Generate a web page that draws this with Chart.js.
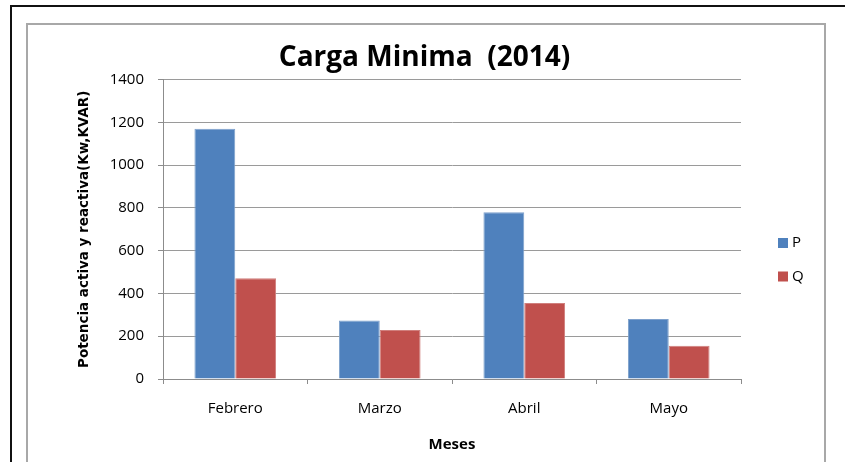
<!DOCTYPE html>
<html><head><meta charset="utf-8">
<script src="https://cdn.jsdelivr.net/npm/chart.js@4"></script>
<style>html,body{margin:0;padding:0;background:#fff;overflow:hidden}#wrap{width:845px;height:462px;position:relative}</style>
</head><body><div id="wrap"><canvas id="c" width="845" height="462"></canvas></div>
<script>
const categories = ['Febrero', 'Marzo', 'Abril', 'Mayo'];
const seriesNames = ['P', 'Q'];
const valuesP = [1170, 273, 780, 281];
const valuesQ = [471, 229, 355, 156];
const yMin = 0, yMax = 1400, yStep = 200;
const titleText = 'Carga Minima  (2014)';
const yTitle = 'Potencia activa y reactiva(Kw,KVAR)';
const xTitle = 'Meses';

const FONT = "'Open Sans', sans-serif";

const framePlugin = {
  id: 'frame',
  beforeDraw(chart) {
    const ctx = chart.ctx;
    ctx.save();
    ctx.fillStyle = '#fff';
    ctx.fillRect(0, 0, chart.width, chart.height);
    ctx.lineWidth = 2;
    ctx.strokeStyle = '#111';
    ctx.beginPath();
    ctx.moveTo(11, chart.height + 2); ctx.lineTo(11, 6); ctx.lineTo(chart.width + 2, 6);
    ctx.stroke();
    ctx.strokeStyle = '#a8a8a8';
    ctx.beginPath();
    ctx.moveTo(27, chart.height + 2); ctx.lineTo(27, 24); ctx.lineTo(825, 24); ctx.lineTo(825, chart.height + 2);
    ctx.stroke();
    ctx.restore();
  },
  afterLayout(chart) {
    const t = chart.titleBlock;
    if (t) { t.left = 0; t.right = 849; t.width = 849; }
  },
  afterDraw(chart) {
    const ctx = chart.ctx;
    ctx.save();
    const items = [{y: 243}, {y: 276.5}];
    chart.data.datasets.forEach((ds, i) => {
      const y = items[i].y;
      ctx.fillStyle = ds.backgroundColor;
      ctx.fillRect(778, y - 5, 10, 10);
      ctx.fillStyle = '#000';
      ctx.font = "15px " + FONT;
      ctx.textBaseline = 'middle';
      ctx.textAlign = 'left';
      ctx.fillText(ds.label, 792, y);
    });
    ctx.restore();
  }
};

new Chart(document.getElementById('c'), {
  type: 'bar',
  data: {
    labels: categories,
    datasets: [
      { label: seriesNames[0], data: valuesP, backgroundColor: '#4F81BD', borderColor: '#7DA0CC', borderWidth: 1, categoryPercentage: 0.565, barPercentage: 1 },
      { label: seriesNames[1], data: valuesQ, backgroundColor: '#C0504D', borderColor: '#D07F7D', borderWidth: 1, categoryPercentage: 0.565, barPercentage: 1 }
    ]
  },
  options: {
    responsive: false,
    animation: false,
    devicePixelRatio: 1,
    layout: { padding: { left: 76, right: 104, top: 0, bottom: 8 } },
    plugins: {
      legend: { display: false },
      tooltip: { enabled: false },
      title: {
        display: true, text: titleText, color: '#000',
        font: { family: FONT, size: 28, weight: 'bold', lineHeight: 1.2 },
        padding: { top: 41, bottom: 5 }
      }
    },
    scales: {
      x: {
        afterFit(s) { s.height = 75; },
        grid: { display: true, drawOnChartArea: false, drawTicks: true, tickLength: 5, offset: true, tickColor: '#8c8c8c' },
        border: { display: true, color: '#8c8c8c', width: 1 },
        ticks: { color: '#000', font: { family: FONT, size: 15 }, padding: 16 },
        title: { display: true, text: xTitle, color: '#000', font: { family: FONT, size: 15, weight: 'bold', lineHeight: 1.2 }, padding: { top: 0, bottom: 0 } }
      },
      y: {
        min: yMin, max: yMax,
        afterFit(s) { s.width = 87; },
        ticks: { stepSize: yStep, color: '#000', font: { family: FONT, size: 15 }, padding: 14, callback: (v) => String(v) },
        grid: { color: '#9a9a9a', lineWidth: 1, drawTicks: true, tickLength: 5, tickColor: '#8c8c8c' },
        border: { display: true, color: '#8c8c8c', width: 1 },
        title: { display: true, text: yTitle, color: '#000', font: { family: "'DejaVu Sans', sans-serif", size: 13.5, weight: 'bold', lineHeight: 1.2 }, padding: { top: 0, bottom: 0 } }
      }
    }
  },
  plugins: [framePlugin]
});
</script></body></html>
